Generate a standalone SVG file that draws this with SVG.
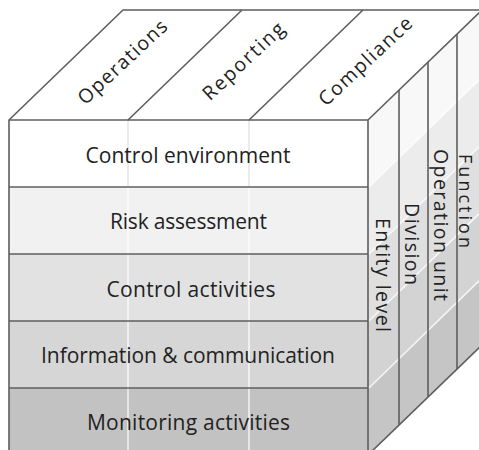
<svg xmlns="http://www.w3.org/2000/svg" width="479" height="450" viewBox="0 0 479 450">
<style>
.edge{fill:none;stroke:#5e5e5e;stroke-width:1.6;stroke-linejoin:round}
.col{stroke:#ffffff;stroke-opacity:0.6;stroke-width:2}
.col1{stroke:#e4e4e4;stroke-width:1.5}
.hl{stroke:#ffffff;stroke-opacity:0.8;stroke-width:1.5}
.t{font-family:"Open Sans",Lato,"Liberation Sans",sans-serif;font-size:21px;fill:#222;text-anchor:middle}
.ts{font-family:"Open Sans",Lato,"Liberation Sans",sans-serif;font-size:19.5px;fill:#222;text-anchor:middle}
</style>
<rect width="479" height="450" fill="#fff"/>
<g id="top-face">
<polygon points="9,120 123,10 482,10 368,120" fill="#fff"/>
</g>
<g id="top-operations"><text class="ts" transform="translate(127,67) rotate(-43)" textLength="114">Operations</text></g>
<g id="top-reporting"><text class="ts" transform="translate(248,66) rotate(-43)" textLength="104">Reporting</text></g>
<g id="top-compliance"><text class="ts" transform="translate(370,66) rotate(-43)" textLength="120">Compliance</text></g>
<g id="right-face">
<polygon points="368,120 482,10 482,77 368,187" fill="#f8f8f8"/>
<polygon points="368,187 482,77 482,144 368,254" fill="#ececec"/>
<polygon points="368,254 482,144 482,211 368,321" fill="#dfdfdf"/>
<polygon points="368,321 482,211 482,278 368,388" fill="#d3d3d3"/>
<polygon points="368,388 482,278 482,345 368,455" fill="#c5c5c5"/>
<line class="hl" x1="369" y1="187" x2="482" y2="77"/>
<line class="hl" x1="369" y1="254" x2="482" y2="144"/>
<line class="hl" x1="369" y1="321" x2="482" y2="211"/>
<line class="hl" x1="369" y1="388" x2="482" y2="278"/>
</g>
<g id="row-control-environment">
<rect x="9" y="120" width="359" height="67" fill="#ffffff"/>
<line class="col1" x1="128" y1="120" x2="128" y2="187"/><line class="col1" x1="249" y1="120" x2="249" y2="187"/>
<text class="t" x="188" y="163" textLength="205">Control environment</text>
</g>
<g id="row-risk-assessment">
<rect x="9" y="187" width="359" height="67" fill="#f1f1f1"/>
<line class="col" x1="128" y1="187" x2="128" y2="254"/><line class="col" x1="249" y1="187" x2="249" y2="254"/>
<text class="t" x="188.5" y="229" textLength="157">Risk assessment</text>
</g>
<g id="row-control-activities">
<rect x="9" y="254" width="359" height="67" fill="#e2e2e2"/>
<line class="col" x1="128" y1="254" x2="128" y2="321"/><line class="col" x1="249" y1="254" x2="249" y2="321"/>
<text class="t" x="191" y="297" textLength="169">Control activities</text>
</g>
<g id="row-information-communication">
<rect x="9" y="321" width="359" height="67" fill="#d6d6d6"/>
<line class="col" x1="128" y1="321" x2="128" y2="388"/><line class="col" x1="249" y1="321" x2="249" y2="388"/>
<text class="t" x="188" y="363" textLength="294">Information &amp; communication</text>
</g>
<g id="row-monitoring-activities">
<rect x="9" y="388" width="359" height="67" fill="#c2c2c2"/>
<line class="col" x1="128" y1="388" x2="128" y2="455"/><line class="col" x1="249" y1="388" x2="249" y2="455"/>
<text class="t" x="188.5" y="430" textLength="203">Monitoring activities</text>
</g>
<g id="side-entity-level"><text class="ts" transform="translate(376,275) rotate(90)" textLength="114">Entity level</text></g>
<g id="side-division"><text class="ts" transform="translate(405,244) rotate(90)" textLength="82">Division</text></g>
<g id="side-operation-unit"><text class="ts" transform="translate(434,225) rotate(90)" textLength="152">Operation unit</text></g>
<g id="side-function"><text class="ts" style="font-size:18px" transform="translate(459,201) rotate(90)" textLength="94">Function</text></g>
<g id="connectors">
<polyline class="edge" points="9,455 9,120 123,10 482,10"/>
<line class="edge" x1="9" y1="120" x2="368" y2="120"/>
<line class="edge" x1="368" y1="120" x2="482" y2="10"/>
<line class="edge" x1="128" y1="120" x2="242" y2="10"/>
<line class="edge" x1="249" y1="120" x2="363" y2="10"/>
<line class="edge" x1="368" y1="120" x2="368" y2="455"/>
<line class="edge" x1="399" y1="90" x2="399" y2="425"/>
<line class="edge" x1="428" y1="62" x2="428" y2="397"/>
<line class="edge" x1="457" y1="34" x2="457" y2="369"/>
<line class="edge" x1="9" y1="187" x2="368" y2="187"/>
<line class="edge" x1="9" y1="254" x2="368" y2="254"/>
<line class="edge" x1="9" y1="321" x2="368" y2="321"/>
<line class="edge" x1="9" y1="388" x2="368" y2="388"/>
<line class="edge" x1="368" y1="455" x2="482" y2="345"/>
</g>
</svg>
